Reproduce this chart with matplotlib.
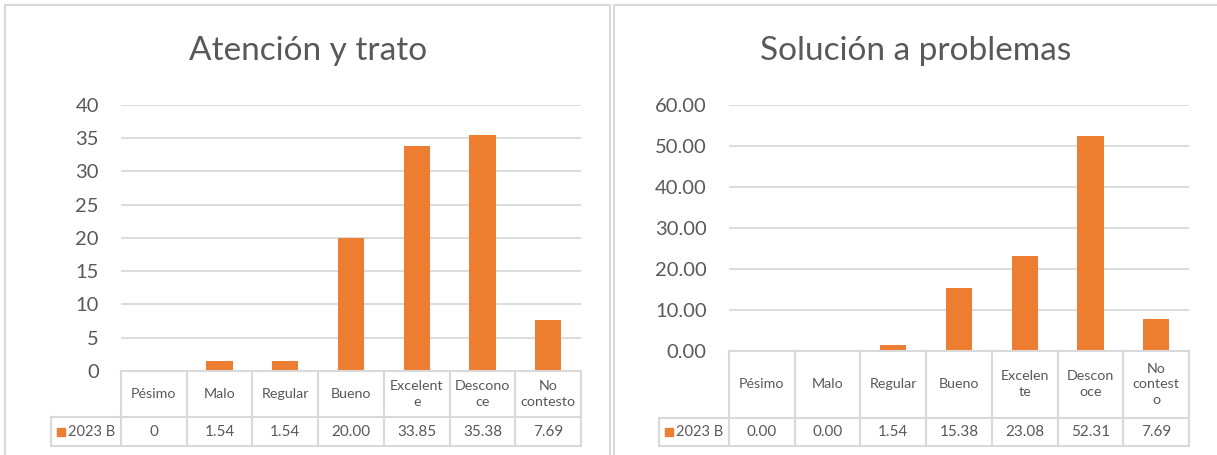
import matplotlib.pyplot as plt
import numpy as np
from matplotlib.lines import Line2D
from matplotlib.patches import Rectangle

# data
categories_left = ["Pésimo", "Malo", "Regular", "Bueno", "Excelent\ne", "Descono\nce", "No\ncontesto"]
values_left = [0, 1.54, 1.54, 20.00, 33.85, 35.38, 7.69]
table_left = ["0", "1.54", "1.54", "20.00", "33.85", "35.38", "7.69"]
yticks_left = [0, 5, 10, 15, 20, 25, 30, 35, 40]

categories_right = ["Pésimo", "Malo", "Regular", "Bueno", "Excelen\nte", "Descon\noce", "No\ncontest\no"]
values_right = [0.00, 0.00, 1.54, 15.38, 23.08, 52.31, 7.69]
yticks_right = [0, 10, 20, 30, 40, 50, 60]

series_name = "2023 B"

W, H = 1217, 455
BAR = "#ED7D31"
GRID = "#D9D9D9"
TXT = "#595959"
FONT = "Lato"

plt.rcParams["font.family"] = [FONT, "DejaVu Sans"]

fig = plt.figure(figsize=(W / 100, H / 100), dpi=100)


def px_axes(x0, y0, x1, y1):
    return fig.add_axes([x0 / W, 1 - y1 / H, (x1 - x0) / W, (y1 - y0) / H])


def fig_line(xs, ys, color=GRID, lw=1.5):
    fig.add_artist(Line2D([x / W for x in xs], [1 - y / H for y in ys],
                          color=color, lw=lw, transform=fig.transFigure))


def panel(title, title_x, cats, vals, tlabels, yticks, fmt,
          px0, px1, ptop, pbot, leg_left, row1, row2):
    n = len(cats)
    ax = px_axes(px0, ptop, px1, pbot)
    ax.bar(np.arange(n), vals, width=0.4, color=BAR, zorder=3)
    ax.set_xlim(-0.5, n - 0.5)
    ax.set_ylim(yticks[0], yticks[-1])
    ax.set_yticks(yticks)
    ax.set_yticklabels([fmt.format(t) for t in yticks])
    ax.set_xticks([])
    ax.yaxis.grid(True, color=GRID, lw=1.3, zorder=0)
    for s in ax.spines.values():
        s.set_visible(False)
    ax.tick_params(axis="y", length=0, pad=16, labelsize=14.5, labelcolor=TXT)

    fig.text(title_x / W, 1 - 51 / H, title, ha="center", va="center",
             fontsize=24, color=TXT)

    # data table under the plot
    colw = (px1 - px0) / n
    fig_line([px0, px1], [pbot, pbot])
    fig_line([leg_left, px1], [row1, row1])
    fig_line([leg_left, px1], [row2, row2])
    for i in range(n + 1):
        x = px0 + i * colw
        fig_line([x, x], [pbot, row2])
    fig_line([leg_left, leg_left], [row1, row2])

    for i in range(n):
        cx = px0 + (i + 0.5) * colw
        fig.text(cx / W, 1 - ((pbot + row1) / 2) / H, cats[i], ha="center", va="center",
                 fontsize=10.3, color=TXT, linespacing=1.35)
        fig.text(cx / W, 1 - ((row1 + row2) / 2 + 1) / H, tlabels[i], ha="center", va="center",
                 fontsize=11, color=TXT)

    # legend key inside the first cell
    ym = (row1 + row2) / 2
    fig.add_artist(Rectangle(((leg_left + 6) / W, 1 - (ym + 4) / H), 8 / W, 8 / H,
                             color=BAR, transform=fig.transFigure))
    fig.text((leg_left + 17) / W, 1 - ym / H, series_name, ha="left", va="center",
             fontsize=10.5, color=TXT)


# outer chart borders
fig_line([5, 5, 610, 610], [460, 5, 5, 460], color=GRID, lw=1.5)
fig_line([614, 614, 1222], [460, 5, 5], color=GRID, lw=1.5)

panel("Atención y trato", 308, categories_left, values_left, table_left,
      yticks_left, "{:.0f}", 121, 581, 104.7, 371, 51, 417, 446)

panel("Solución a problemas", 916, categories_right, values_right,
      ["{:.2f}".format(v) for v in values_right],
      yticks_right, "{:.2f}", 729, 1189, 104.7, 351, 659, 417.5, 445.5)

fig.savefig("out.png", dpi=100, facecolor="white")
